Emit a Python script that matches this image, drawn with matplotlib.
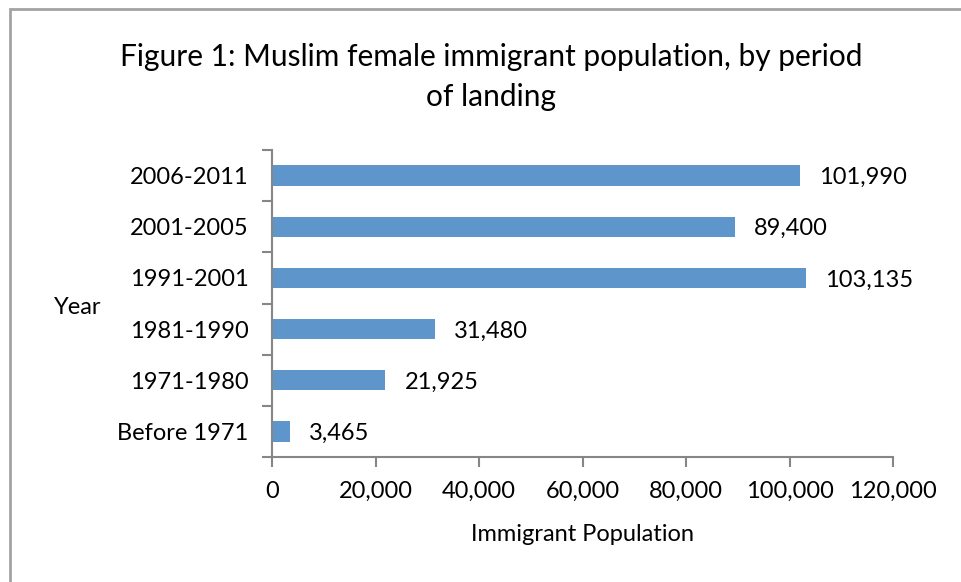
import matplotlib
matplotlib.use("Agg")
import matplotlib.pyplot as plt
from matplotlib.patches import Rectangle
from matplotlib.ticker import FuncFormatter

periods = ["Before 1971", "1971-1980", "1981-1990", "1991-2001", "2001-2005", "2006-2011"]
population = [3465, 21925, 31480, 103135, 89400, 101990]
x_ticks = [0, 20000, 40000, 60000, 80000, 100000, 120000]

plt.rcParams["font.family"] = ["Lato", "DejaVu Sans"]

W, H = 961, 582
fig = plt.figure(figsize=(W / 100, H / 100), dpi=100)

# chart frame
fig.patches.append(Rectangle((10 / W, -0.1), 1.1, 1 - 9 / H + 0.1,
                             transform=fig.transFigure, fill=False,
                             edgecolor="#a3a3a3", linewidth=2))

ax_l, ax_r, ax_t, ax_b = 272, 893, 150, 457
ax = fig.add_axes([ax_l / W, 1 - ax_b / H, (ax_r - ax_l) / W, (ax_b - ax_t) / H])

fs = 17
bar_color = "#5E95CA"
ypos = list(range(len(periods)))
ax.barh(ypos, population, height=0.4, color=bar_color)

for y, v in zip(ypos, population):
    ax.annotate(f"{v:,}", (v, y), xytext=(14, 0), textcoords="offset points",
                va="center_baseline", ha="left", fontsize=fs, color="black")

ax.set_xlim(0, 120000)
ax.set_ylim(-0.5, len(periods) - 0.5)
ax.set_xticks(x_ticks)
ax.xaxis.set_major_formatter(FuncFormatter(lambda v, p: f"{int(v):,}"))
ax.set_yticks(ypos)
ax.set_yticklabels(periods, va="center_baseline")
ax.set_yticks([i - 0.5 for i in range(len(periods) + 1)], minor=True)

axis_color = "#868686"
for side in ["top", "right"]:
    ax.spines[side].set_visible(False)
for side in ["left", "bottom"]:
    ax.spines[side].set_color(axis_color)
    ax.spines[side].set_linewidth(1.5)

ax.tick_params(axis="y", which="major", length=0, pad=17, labelsize=fs)
ax.tick_params(axis="y", which="minor", length=7, width=1.5, color=axis_color)
ax.tick_params(axis="x", which="major", length=7, width=1.5, color=axis_color,
               pad=10, labelsize=fs)

ax.set_xlabel("Immigrant Population", fontsize=fs, labelpad=16)
fig.text(78 / W, 1 - 308 / H, "Year", fontsize=fs, ha="center", va="center")

fig.text(491 / W, 1 - 57 / H, "Figure 1: Muslim female immigrant population, by period",
         fontsize=21.5, ha="center", va="center")
fig.text(491 / W, 1 - 97 / H, "of landing", fontsize=21.5, ha="center", va="center")

fig.savefig("out.png", dpi=100)
